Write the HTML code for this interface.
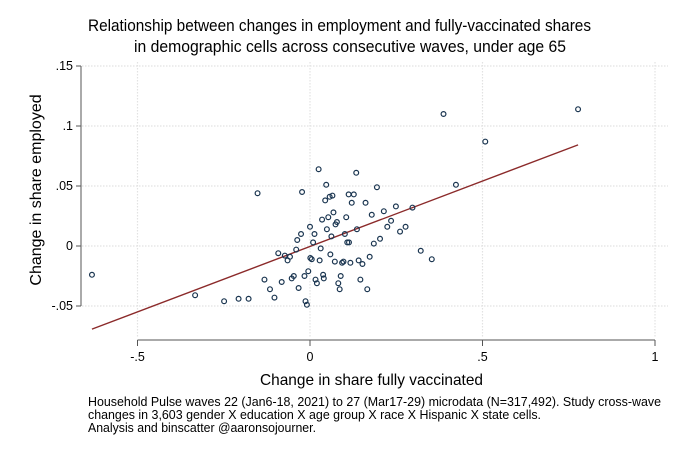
<!DOCTYPE html>
<html><head><meta charset="utf-8"><style>
body{margin:0;background:#fff;}
svg{display:block;font-family:"Liberation Sans",Arial,sans-serif;}
</style></head><body>
<svg id="chart" width="680" height="453" viewBox="0 0 680 453">
<rect width="680" height="453" fill="#fff"/>
<text x="88" y="31" font-size="17" textLength="503" lengthAdjust="spacingAndGlyphs" fill="#000">Relationship between changes in employment and fully-vaccinated shares</text>
<text x="134" y="52" font-size="17" textLength="432" lengthAdjust="spacingAndGlyphs" fill="#000">in demographic cells across consecutive waves, under age 65</text>
<g id="grid"></g>
<g id="axes"></g>
<g id="marks"></g>
<text x="260" y="385" font-size="16" textLength="223" lengthAdjust="spacingAndGlyphs" fill="#000">Change in share fully vaccinated</text>
<text transform="translate(41,190) rotate(-90)" text-anchor="middle" font-size="16" fill="#000">Change in share employed</text>
<g font-size="12.5" fill="#000">
<text x="88" y="406" textLength="573" lengthAdjust="spacingAndGlyphs">Household Pulse waves 22 (Jan6-18, 2021) to 27 (Mar17-29) microdata (N=317,492). Study cross-wave</text>
<text x="88" y="419" textLength="453" lengthAdjust="spacingAndGlyphs">changes in 3,603 gender X education X age group X race X Hispanic X state cells.</text>
<text x="88" y="432" textLength="228" lengthAdjust="spacingAndGlyphs">Analysis and binscatter @aaronsojourner.</text>
</g>
</svg>
<script>
const xTicks=[-0.5,0,0.5,1];
const xTickLabels=["-.5","0",".5","1"];
const yTicks=[-0.05,0,0.05,0.1,0.15];
const yTickLabels=["-.05","0",".05",".1",".15"];
const xVals=[-.632,-.333,-.249,-.207,-.178,-.152,-.132,-.116,-.103,-.092,-.082,-.073,-.065,-.058,-.053,-.047,-.040,-.037,-.033,-.026,-.023,-.016,-.013,-.009,-.005,0,.001,.005,.009,.013,.016,.020,.025,.028,.031,.035,.038,.040,.044,.047,.049,.053,.057,.059,.062,.065,.068,.072,.074,.078,.082,.086,.089,.093,.097,.101,.105,.108,.112,.113,.117,.121,.127,.134,.136,.141,.146,.152,.161,.166,.173,.179,.185,.194,.203,.214,.224,.235,.249,.261,.277,.297,.321,.353,.387,.423,.508,.777];
const yVals=[-.024,-.041,-.046,-.044,-.044,.044,-.028,-.036,-.043,-.006,-.030,-.008,-.012,-.009,-.027,-.025,-.003,.005,-.035,.010,.045,-.025,-.046,-.049,-.021,.016,-.010,-.011,.003,.010,-.028,-.031,.064,-.012,-.002,.022,-.024,-.027,.038,.051,.014,.024,.041,-.007,.008,.042,.028,-.013,.018,.020,-.031,-.036,-.025,-.014,-.013,.010,.024,.003,.043,.003,-.014,.036,.043,.061,.014,-.012,-.028,-.015,.036,-.036,-.009,.026,.002,.049,.006,.029,.016,.021,.033,.012,.016,.032,-.004,-.011,.110,.051,.087,.114];
const fitIntercept=-0.0004;
const fitSlope=0.109;
const fitRange=[-0.632,0.777];

const NS="http://www.w3.org/2000/svg";
const X=v=>310+v*345;
const Y=v=>246-v*1200;
function mk(tag,attrs,parent){const e=document.createElementNS(NS,tag);for(const k in attrs)e.setAttribute(k,attrs[k]);parent.appendChild(e);return e;}
const grid=document.getElementById('grid'),axes=document.getElementById('axes'),marks=document.getElementById('marks');
yTicks.forEach((t,i)=>{
  const g=mk('line',{x1:82,x2:668,y1:Y(t),y2:Y(t),stroke:'#e2e2e2','stroke-width':1.2,'stroke-dasharray':'1.5 1.5'},grid);
  
  
  const tk=mk('line',{x1:76,x2:81,y1:Y(t),y2:Y(t),stroke:'#555'},axes);
  
  
  const lb=mk('text',{x:73,y:Y(t)+4,'text-anchor':'end','font-size':12.5,fill:'#000'},axes);
  lb.textContent=yTickLabels[i];
  
  
});
xTicks.forEach((t,i)=>{
  const g=mk('line',{x1:X(t),x2:X(t),y1:62,y2:338,stroke:'#e2e2e2','stroke-width':1.2,'stroke-dasharray':'1.5 1.5'},grid);
  
  
  const tk=mk('line',{x1:X(t),x2:X(t),y1:340,y2:346,stroke:'#555'},axes);
  
  
  const lb=mk('text',{x:X(t),y:361,'text-anchor':'middle','font-size':12.5,fill:'#000'},axes);
  lb.textContent=xTickLabels[i];
  
  
});
const ya=mk('line',{x1:81,x2:81,y1:Y(0.15),y2:Y(-0.05),stroke:'#555'},axes);


const xa=mk('line',{x1:X(-0.5),x2:X(1),y1:340,y2:340,stroke:'#555'},axes);


const fl=mk('line',{x1:X(fitRange[0]),y1:Y(fitIntercept+fitSlope*fitRange[0]),x2:X(fitRange[1]),y2:Y(fitIntercept+fitSlope*fitRange[1]),stroke:'#8b2a2a','stroke-width':1.4},marks);


xVals.forEach((v,i)=>{
  const c=mk('circle',{cx:X(v),cy:Y(yVals[i]),r:2.4,fill:'none',stroke:'#1a3550','stroke-width':1.2},marks);
  
  
});
</script>
</body></html>
